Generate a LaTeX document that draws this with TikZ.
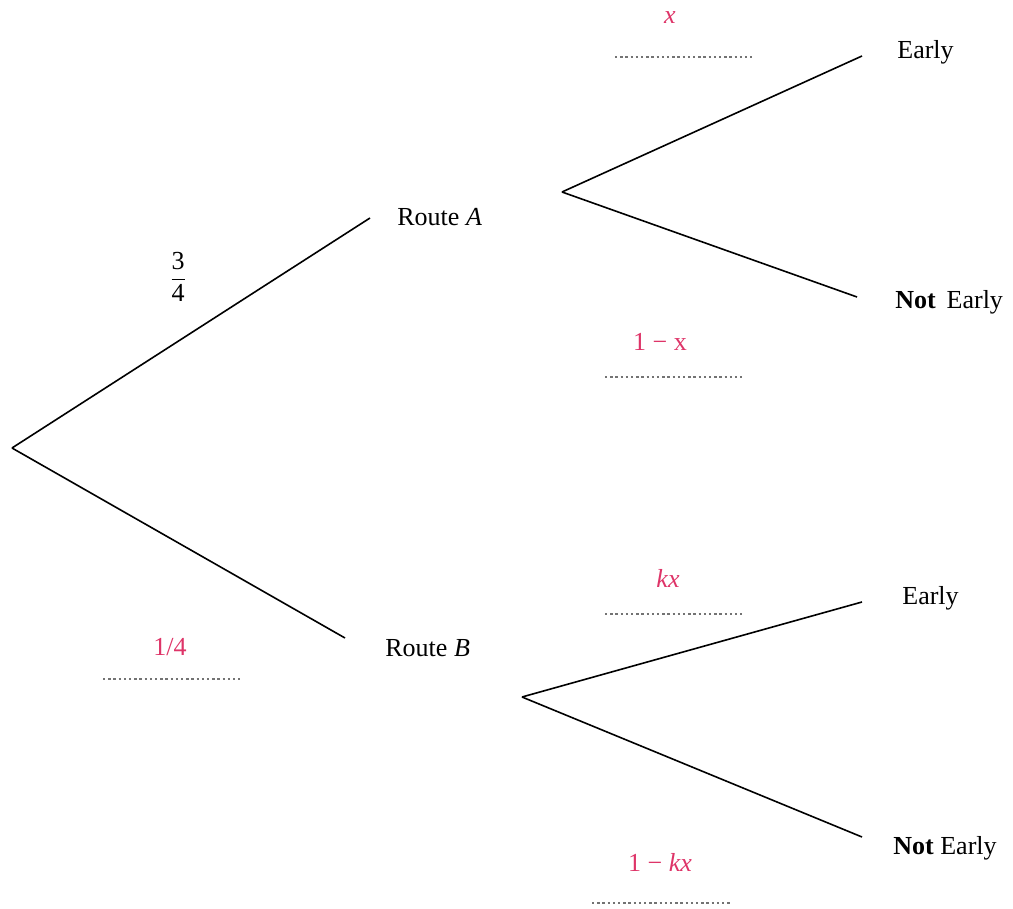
\documentclass[tikz,border=0pt]{standalone}
\usepackage{amsmath}
\usepackage{fontspec}
\setmainfont{Liberation Serif}
\usepackage{tikz}
\usetikzlibrary{calc}
\definecolor{probred}{RGB}{222,52,104}
\tikzset{branch/.style={line width=0.8pt},
  prob/.style={text=probred,font=\fontsize{13}{15}\selectfont},
  blank/.style={draw=gray!90!black,line width=0.9pt,dash pattern=on 1.2pt off 1.4pt},
  outcome/.style={font=\fontsize{13}{15}\selectfont,anchor=west,inner sep=0pt}}
\begin{document}
\begin{tikzpicture}[x=0.5pt,y=-0.5pt]
  \useasboundingbox (0,0) rectangle (1013,909);
  % first stage
  \coordinate (root) at (12,448);
  \coordinate (aend) at (370,218);
  \coordinate (bend) at (345,638);
  \node[outcome] (routeA) at (397,217) {Route \textit{A}};
  \node[outcome] (routeB) at (385,648) {Route \textit{B}};
  \node (threefour) at (178,277) {\fontsize{13}{15}\selectfont$\dfrac{\mbox{3}}{\mbox{4}}$};
  \node[prob] (onefour) at (170,647) {1/4};
  \coordinate (l1) at (103,679);
  \coordinate (r1) at (240,679);
  \draw [branch] (root) -- (aend);
  \draw [branch] (root) -- (bend);
  \draw [blank] (l1) -- (r1);
  % route A
  \coordinate (afork) at (562,192);
  \coordinate (aup) at (862,56);
  \coordinate (adown) at (857,297);
  \node[outcome] (earlyA) at (897,52) {Early};
  \node[outcome] (notA) at (895,302) {\textbf{Not}\, Early};
  \node[prob] (px) at (670,18) {\textit{x}};
  \node[prob] (qx) at (660,342) {1 − x};
  \coordinate (l2) at (615,57);
  \coordinate (r2) at (752,57);
  \coordinate (l3) at (605,377);
  \coordinate (r3) at (742,377);
  \draw [branch] (afork) -- (aup);
  \draw [branch] (afork) -- (adown);
  \draw [blank] (l2) -- (r2);
  \draw [blank] (l3) -- (r3);
  % route B
  \coordinate (bfork) at (522,697);
  \coordinate (bup) at (862,602);
  \coordinate (bdown) at (862,837);
  \node[outcome] (earlyB) at (902,598) {Early};
  \node[outcome] (notB) at (893,848) {\textbf{Not} Early};
  \node[prob] (pkx) at (668,578) {\textit{kx}};
  \node[prob] (qkx) at (660,862) {1 − \textit{kx}};
  \coordinate (l4) at (605,614);
  \coordinate (r4) at (742,614);
  \coordinate (l5) at (592,903);
  \coordinate (r5) at (730,903);
  \draw [branch] (bfork) -- (bup);
  \draw [branch] (bfork) -- (bdown);
  \draw [blank] (l4) -- (r4);
  \draw [blank] (l5) -- (r5);
\end{tikzpicture}
\end{document}
